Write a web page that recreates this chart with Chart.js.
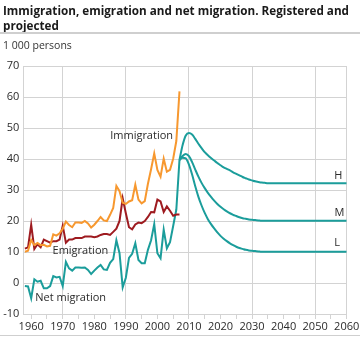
<!DOCTYPE html>
<html>
<head>
<meta charset="utf-8">
<script src="https://cdn.jsdelivr.net/npm/chart.js@4/dist/chart.umd.min.js"></script>
<style>
  html, body { margin: 0; padding: 0; background: #fff; }
  body { width: 360px; height: 337px; position: relative; overflow: hidden; font-family: 'Open Sans', sans-serif; }
  #title { position: absolute; left: 3px; top: 3px; font-size: 11.7px; font-weight: 700; line-height: 15px; color: #1a1a1a; white-space: nowrap; }
  #rule { position: absolute; left: 0; top: 32px; width: 360px; height: 2px; background: #cfcfcf; }
  #unit { position: absolute; left: 3px; top: 38px; font-size: 10.5px; color: #333; white-space: nowrap; }
  #foot { position: absolute; left: 0; top: 335px; width: 360px; height: 1px; background: #cfcfcf; }
  canvas { position: absolute; left: 0; top: 0; }
</style>
</head>
<body>
<canvas id="chart" width="360" height="337"></canvas>
<div id="title">Immigration, emigration and net migration. Registered and<br>projected</div>
<div id="rule"></div>
<div id="unit">1 000 persons</div>
<div id="foot"></div>
<script>
// registered figures, 1958-2007 (1 000 persons)
const HIST_YEARS = [1958, 1959, 1960, 1961, 1962, 1963, 1964, 1965, 1966, 1967, 1968, 1969,
    1970, 1971, 1972, 1973, 1974, 1975, 1976, 1977, 1978, 1979,
    1980, 1981, 1982, 1983, 1984, 1985, 1986, 1987, 1988, 1989,
    1990, 1991, 1992, 1993, 1994, 1995, 1996, 1997, 1998, 1999,
    2000, 2001, 2002, 2003, 2004, 2005, 2006, 2007];
const IMMIGRATION = [10.1, 10.4, 13.9, 12.2, 12.9, 12.2, 12.3, 11.8, 12.0, 15.7, 15.3, 16.0,
    17.5, 19.8, 18.7, 18.0, 19.5, 19.5, 19.4, 20.0, 19.2, 17.9,
    18.8, 20.0, 21.3, 20.2, 20.0, 22.0, 24.2, 31.3, 29.6, 25.9,
    25.5, 26.3, 26.7, 31.7, 26.9, 25.7, 26.4, 32.0, 36.7, 41.8,
    36.5, 34.3, 40.1, 35.9, 36.5, 40.1, 45.8, 61.8];
const EMIGRATION = [11.1, 11.5, 18.8, 11.0, 12.5, 11.5, 14.0, 13.5, 13.0, 13.5, 13.5, 14.0,
    18.5, 13.0, 14.0, 14.0, 14.5, 14.5, 14.5, 15.0, 15.0, 15.0,
    14.8, 15.0, 15.5, 15.8, 15.8, 15.5, 16.5, 17.5, 20.0, 27.3,
    22.5, 18.0, 17.3, 18.9, 19.5, 19.3, 20.0, 21.3, 22.9, 22.8,
    26.9, 26.3, 22.9, 24.7, 23.3, 21.7, 22.1, 22.1];
const NET_MIGRATION = [-1.0, -1.1, -4.9, 1.2, 0.4, 0.7, -1.7, -1.7, -1.0, 2.2, 1.8, 2.0,
    -1.0, 6.8, 4.7, 4.0, 5.0, 5.0, 4.9, 5.0, 4.2, 2.9,
    4.0, 5.0, 5.8, 4.4, 4.2, 6.5, 7.7, 13.8, 9.6, -1.4,
    1.7, 8.1, 9.4, 12.8, 7.4, 6.4, 6.4, 10.7, 13.8, 19.0,
    9.6, 8.0, 17.2, 11.2, 13.2, 18.4, 23.7, 39.7];

// projected net migration, alternatives H / M / L
const PROJ_YEARS = [2007, 2008, 2009, 2010, 2011, 2012, 2013, 2014, 2015, 2016, 2017, 2018, 2019,
    2020, 2021, 2022, 2023, 2024, 2025, 2026, 2027, 2028, 2029,
    2030, 2031, 2032, 2033, 2034, 2035, 2036, 2037, 2038, 2039, 2040, 2050, 2060];
const PROJ_HIGH = [39.7, 44.5, 47.6, 48.4, 47.9, 46.5, 44.9, 43.5, 42.2, 41.2, 40.3, 39.5, 38.7,
    38.0, 37.3, 36.8, 36.3, 35.7, 35.2, 34.7, 34.2, 33.8, 33.4,
    33.1, 32.8, 32.6, 32.4, 32.3, 32.2, 32.2, 32.2, 32.2, 32.2, 32.2, 32.2, 32.2];
const PROJ_MEDIUM = [39.7, 41.0, 41.6, 40.9, 39.0, 36.6, 34.3, 32.3, 30.6, 29.1, 27.8, 26.6, 25.5,
    24.6, 23.8, 23.1, 22.5, 22.0, 21.6, 21.2, 20.9, 20.7, 20.5,
    20.4, 20.3, 20.2, 20.1, 20.1, 20.1, 20.1, 20.1, 20.1, 20.1, 20.1, 20.1, 20.1];
const PROJ_LOW = [39.7, 40.4, 40.2, 38.2, 35.0, 31.2, 27.8, 25.0, 22.6, 20.6, 19.0, 17.6, 16.3,
    15.2, 14.3, 13.5, 12.8, 12.2, 11.7, 11.3, 11.0, 10.7, 10.5,
    10.4, 10.3, 10.2, 10.1, 10.1, 10.1, 10.1, 10.1, 10.1, 10.1, 10.1, 10.1, 10.1];

// x axis: tick marks every 5 years, labels every 10, grid every 20 (from 1970)
const X_TICKS = [1960, 1965, 1970, 1975, 1980, 1985, 1990, 1995, 2000, 2005, 2010,
    2015, 2020, 2025, 2030, 2035, 2040, 2045, 2050, 2055, 2060];
const X_LABELS = [1960, 1970, 1980, 1990, 2000, 2010, 2020, 2030, 2040, 2050, 2060];
const X_GRID = [1970, 1990, 2010, 2030, 2050, 2060];
const Y_TICKS = [-10, 0, 10, 20, 30, 40, 50, 60, 70];

(function(){
    'use strict';

    const COLORS = {
        immigration: '#f7982f',
        emigration: '#9e1b20',
        net: '#1b9d9b',
        grid: '#d3d3d3',
        text: '#2b2b2b'
    };
    const FONT = "'Open Sans', sans-serif";
    const NONE = 'rgba(0,0,0,0)';

    function qs(id){ return document.getElementById(id); }

    function toPoints(xs, ys){
        return xs.map((x, i) => ({ x: x, y: ys[i] }));
    }

    function lineSet(label, xs, ys, color, smooth){
        return {
            label: label,
            data: toPoints(xs, ys),
            borderColor: color,
            backgroundColor: color,
            borderWidth: 2,
            pointRadius: 0,
            fill: false,
            tension: 0,
            cubicInterpolationMode: smooth ? 'monotone' : 'default'
        };
    }

    // text labels sitting inside the plot, placed in data units
    const seriesLabels = {
        id: 'seriesLabels',
        afterDatasetsDraw(chart){
            const c = chart.ctx, xs = chart.scales.x, ys = chart.scales.y;
            const items = [
                { t: 'Immigration', x: 1995, y: 47.6 },
                { t: 'Emigration', x: 1975.6, y: 10.4 },
                { t: 'Net migration', x: 1972.5, y: -4.9 },
                { t: 'H', x: 2057.3, y: 34.7 },
                { t: 'M', x: 2057.7, y: 22.7 },
                { t: 'L', x: 2057, y: 12.8 }
            ];
            c.save();
            c.font = '11px ' + FONT;
            c.fillStyle = COLORS.text;
            c.textAlign = 'center';
            c.textBaseline = 'middle';
            items.forEach(i => c.fillText(i.t, xs.getPixelForValue(i.x), ys.getPixelForValue(i.y)));
            c.restore();
        }
    };

    function xGridColor(ctx){
        const v = ctx.tick ? ctx.tick.value : null;
        return X_GRID.indexOf(v) >= 0 ? COLORS.grid : NONE;
    }

    function build(){
        return new Chart(qs('chart').getContext('2d'), {
            type: 'line',
            data: {
                datasets: [
                    lineSet('Immigration', HIST_YEARS, IMMIGRATION, COLORS.immigration, false),
                    lineSet('Emigration', HIST_YEARS, EMIGRATION, COLORS.emigration, false),
                    lineSet('Net migration', HIST_YEARS, NET_MIGRATION, COLORS.net, false),
                    lineSet('H', PROJ_YEARS, PROJ_HIGH, COLORS.net, true),
                    lineSet('M', PROJ_YEARS, PROJ_MEDIUM, COLORS.net, true),
                    lineSet('L', PROJ_YEARS, PROJ_LOW, COLORS.net, true)
                ]
            },
            options: {
                responsive: false,
                animation: false,
                devicePixelRatio: 1,
                layout: { padding: { top: 66, right: 13.3, bottom: 0, left: 0 } },
                plugins: {
                    legend: { display: false },
                    tooltip: { enabled: false }
                },
                scales: {
                    x: {
                        type: 'linear',
                        min: 1957.5,
                        max: 2060,
                        afterBuildTicks: s => { s.ticks = X_TICKS.map(v => ({ value: v })); },
                        afterFit: s => { s.height = 23; s.paddingLeft = 0; s.paddingRight = 0; },
                        ticks: {
                            autoSkip: false,
                            maxRotation: 0,
                            padding: 1,
                            color: COLORS.text,
                            font: { family: FONT, size: 11 },
                            callback: v => (X_LABELS.indexOf(v) >= 0 ? String(v) : '')
                        },
                        grid: {
                            color: xGridColor,
                            tickColor: COLORS.grid,
                            tickLength: 5,
                            lineWidth: 1
                        },
                        border: { color: COLORS.grid, width: 1 }
                    },
                    y: {
                        min: Y_TICKS[0],
                        max: Y_TICKS[Y_TICKS.length - 1],
                        afterFit: s => { s.width = 23.3; },
                        afterBuildTicks: s => { s.ticks = Y_TICKS.map(v => ({ value: v })); },
                        ticks: {
                            padding: 4,
                            color: COLORS.text,
                            font: { family: FONT, size: 11 }
                        },
                        grid: { color: COLORS.grid, drawTicks: false, lineWidth: 1 },
                        border: { color: COLORS.grid, width: 1 }
                    }
                }
            },
            plugins: [seriesLabels]
        });
    }

    build();
})();
</script>
</body>
</html>
